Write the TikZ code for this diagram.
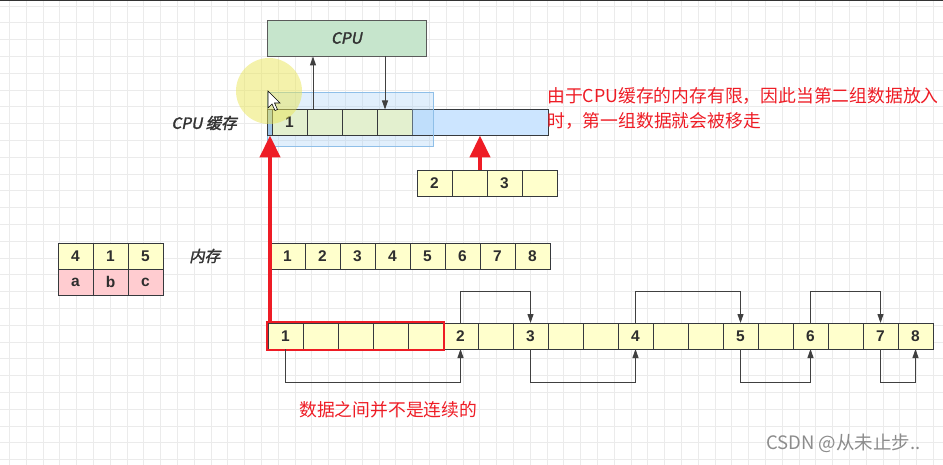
\documentclass[tikz,border=0pt]{standalone}
\usepackage{fontspec}
\setmainfont{Liberation Sans}
\newfontfamily\cjkfont{Noto Sans CJK SC}
\newfontfamily\cjktagfont[FakeSlant=0.2,FakeBold=2]{Noto Sans CJK SC}
\newfontfamily\numfont{Liberation Sans}
\usetikzlibrary{positioning}
\usetikzlibrary{calc}
\usetikzlibrary{fit}
\usetikzlibrary{arrows.meta}
\definecolor{cellyellow}{HTML}{FFFFCC}
\definecolor{cellgreen}{HTML}{E3F0CF}
\definecolor{cellpink}{HTML}{FFCCD0}
\definecolor{cellline}{HTML}{36393D}
\definecolor{numgray}{HTML}{2E2E2E}
\definecolor{cpugreen}{HTML}{C6E5CC}
\definecolor{cpuline}{HTML}{5A5A5A}
\definecolor{cacheblue}{HTML}{CCE5FF}
\definecolor{slivblue}{HTML}{9CC3E8}
\definecolor{overlayblue}{HTML}{A9D1F5}
\definecolor{overlayline}{HTML}{8FBFE8}
\definecolor{notered}{HTML}{EE1C25}
\definecolor{linkgray}{HTML}{404040}
\definecolor{taggray}{HTML}{333333}
\definecolor{markgray}{HTML}{8C8C8C}
\definecolor{gridgray}{HTML}{EBEBEB}
\definecolor{hilite}{HTML}{EAE658}
\tikzset{>={Triangle[width=6pt,length=9pt]}}
\tikzset{cell/.style={rectangle, draw=cellline, fill=cellyellow, line width=0.8pt, minimum width=35pt, minimum height=26pt, inner sep=0pt, outer sep=0pt, font=\numfont\bfseries\fontsize{15.5}{15.5}\selectfont, text=numgray}}
\tikzset{pinkcell/.style={cell, fill=cellpink}}
\tikzset{cpubox/.style={rectangle, draw=cpuline, fill=cpugreen, line width=0.9pt, minimum width=159pt, minimum height=36pt, font=\cjktagfont\fontsize{15.5}{15.5}\selectfont, text=taggray}}
\tikzset{tag/.style={font=\cjktagfont\fontsize{15.5}{15.5}\selectfont, text=taggray, inner sep=0pt}}
\tikzset{note/.style={font=\cjkfont\fontsize{17.8}{25}\selectfont, text=notered, inner sep=0pt, align=left}}
\tikzset{link/.style={draw=linkgray, line width=0.9pt, ->}}
\tikzset{bigarrow/.style={draw=notered, line width=4.5pt, -{Triangle[width=20pt,length=22pt]}}}

\begin{document}
\begin{tikzpicture}[x=1pt, y=-1pt]

    \useasboundingbox (0,0) rectangle (943,465);

    % Background grid.
    \foreach \gx in {9.3,26.1,...,943} \draw [gridgray, line width=0.8pt] (\gx,0) -- (\gx,465);
    \foreach \gy in {6,22.8,...,465} \draw [gridgray, line width=0.8pt] (0,\gy) -- (943,\gy);
    \fill [black!80] (0,0) rectangle (943,1.2);

    % CPU.
    \node [cpubox] (cpu) at (346.5,38) {CPU};

    % Cache window, behind the cache.
    \node (window) [draw=overlayline, fill=overlayblue, fill opacity=0.35, line width=0.8pt, minimum width=166pt, minimum height=54pt] at (350,119) {};

    % CPU cache.
    \node [cell, fill=slivblue, minimum width=5pt] (c0) at (269.5,122.5) {};
    \foreach \i/\t in {1/1,2/,3/,4/}
        \node [cell, fill=cellgreen] (c\i) at ({254.5+35*\i},122.5) {\t};
    \node [cell, fill=cacheblue, minimum width=136pt] (spill) at (480,122.5) {};
    \fill [overlayblue, fill opacity=0.35] (spill.north west) rectangle (window.east |- spill.south);
    \draw [overlayline, line width=0.8pt] (window.north east) -- (window.south east);
    \node [tag, anchor=east] (cachetag) at (237,123) {CPU 缓存};

    % Lines between cache and CPU.
    \coordinate (upx) at (313,0);
    \coordinate (downx) at (385,0);
    \draw [link] (c2.north -| upx) -- (cpu.south -| upx);
    \draw [link] (cpu.south -| downx) -- (c4.north -| downx);

    % Second group.
    \foreach \i/\t in {1/2,2/,3/3,4/}
        \node [cell] (s\i) at ({399.5+35*\i},183.5) {\t};

    % Table on the left.
    \foreach \i/\t in {1/4,2/1,3/5}
        \node [cell] (k\i) at ({40.5+35*\i},256) {\t};
    \foreach \i/\t in {1/a,2/b,3/c}
        \node [pinkcell] (v\i) at ({40.5+35*\i},282) {\t};
    \node [tag, anchor=west] (memtag) at (189,256) {内存};

    % Memory.
    \foreach \i in {1,...,8}
        \node [cell] (m\i) at ({252.5+35*\i},256) {\i};

    % Scattered data.
    \foreach \i/\t in {0/1,1/,2/,3/,4/,5/2,6/,7/3,8/,9/,10/4,11/,12/,13/5,14/,15/6,16/,17/7,18/8}
        \node [cell] (d\i) at ({285.5+35*\i},336) {\t};
    \node (group) [draw=notered, line width=2pt, inner sep=1pt, fit={(d0) (d4)}] {};

    % Lines from one piece of data to the next.
    \draw [link] (d0.south) -- ++(0,33) -| (d5.south);
    \draw [link] (d5.north) -- ++(0,-32) -| (d7.north);
    \draw [link] (d7.south) -- ++(0,33) -| (d10.south);
    \draw [link] (d10.north) -- ++(0,-32) -| (d13.north);
    \draw [link] (d13.south) -- ++(0,33) -| (d15.south);
    \draw [link] (d15.north) -- ++(0,-32) -| (d17.north);
    \draw [link] (d17.south) -- ++(0,33) -| (d18.south);

    % Red arrows into the cache.
    \coordinate (leftx) at (270,0);
    \draw [bigarrow] (group.north -| leftx) -- (c1.south -| leftx);
    \draw [bigarrow] (spill.south |- s2.north) -- (spill.south);

    % Notes.
    \node [note, anchor=north west] (cachenote) at (547,87) {由于CPU缓存的内存有限，因此当第二组数据放入\\时，第一组数据就会被移走};
    \node [note, anchor=west] (gapnote) at (299,410) {数据之间并不是连续的};
    \node [anchor=west, inner sep=0pt, font=\cjkfont\fontsize{18.5}{18.5}\selectfont, text=markgray] (mark) at (766,443) {CSDN @从未止步..};

    % Pointer highlight.
    \fill [hilite, fill opacity=0.5] (269,91) circle [radius=33pt];
    \draw [fill=white, line width=0.6pt] (268,91) -- ++(0,17) -- ++(4,-4) -- ++(3,6.5) -- ++(2.5,-1) -- ++(-3,-6.5) -- ++(5.5,0) -- cycle;

\end{tikzpicture}
\end{document}
